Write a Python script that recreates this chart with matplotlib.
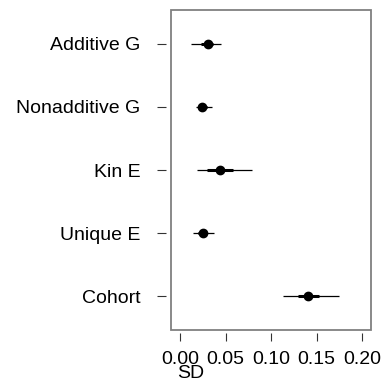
import matplotlib
matplotlib.use("Agg")
import matplotlib.pyplot as plt
from matplotlib.patches import Rectangle

plt.rcParams['font.family'] = ['Liberation Sans', 'DejaVu Sans']

categories = ["Additive G", "Nonadditive G", "Kin E", "Unique E", "Cohort"]
estimate = [0.031, 0.0245, 0.0436, 0.0249, 0.141]
outer_low = [0.0124, 0.018, 0.0187, 0.0147, 0.1132]
outer_high = [0.0454, 0.0352, 0.0788, 0.037, 0.1744]
inner_low = [0.0227, 0.0212, 0.0297, 0.020, 0.130]
inner_high = [0.0366, 0.030, 0.058, 0.029, 0.1528]
xticks = [0.00, 0.05, 0.10, 0.15, 0.20]
xticklabels = ["0.00", "0.05", "0.10", "0.15", "0.20"]

fig = plt.figure(figsize=(3.82, 3.90), dpi=100)
ax = fig.add_axes([0.4469, 0.1538, 0.5236, 0.8205])

ypos = list(range(1, len(categories) + 1))
ax.hlines(ypos, outer_low, outer_high, color='black', lw=0.9)
ax.hlines(ypos, inner_low, inner_high, color='black', lw=2.2)
ax.plot(estimate, ypos, 'o', color='black', ms=6)

ax.set_xlim(-0.0102, 0.2095)
ax.set_ylim(5.533, 0.467)

for s in ax.spines.values():
    s.set_visible(False)
ax.spines['left'].set_position(('outward', 3.4))
ax.spines['bottom'].set_position(('outward', 2.0))
ax.tick_params(axis='y', length=6.7, width=0.8, color='#333333', pad=11.5, labelsize=14)
ax.tick_params(axis='x', length=5.8, width=0.8, color='#333333', pad=7, labelsize=14)

ax.set_yticks(ypos)
ax.set_yticklabels(categories)
ax.set_xticks(xticks)
ax.set_xticklabels(xticklabels)

ax.add_patch(Rectangle((0, 0), 1, 1, transform=ax.transAxes, fill=False,
                       edgecolor='#808080', lw=1.3, clip_on=False))

fig.text(0.5, 1 - 373 / 390, "SD", ha='center', va='center', fontsize=14)

fig.savefig("out.png", dpi=100)
